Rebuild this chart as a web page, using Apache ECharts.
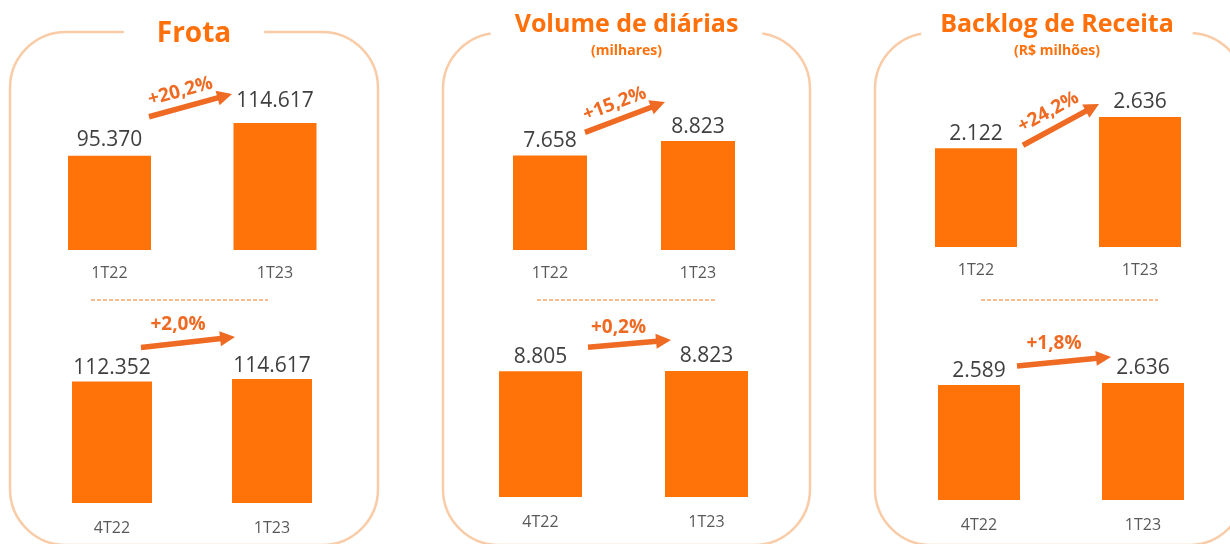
<!DOCTYPE html>
<html>
<head>
<meta charset="utf-8">
<script src="https://cdn.jsdelivr.net/npm/echarts@6/dist/echarts.min.js"></script>
<style>
  html, body { margin: 0; padding: 0; background: #fff; }
  #chart { width: 1230px; height: 544px; }
</style>
</head>
<body>
<div id="chart"></div>
<script>
// ---------- DATA ----------
const categoriesYoY = ['1T22', '1T23'];
const categoriesQoQ = ['4T22', '1T23'];
const frotaYoY = [95370, 114617];
const frotaQoQ = [112352, 114617];
const diariasYoY = [7658, 8823];
const diariasQoQ = [8805, 8823];
const backlogYoY = [2122, 2636];
const backlogQoQ = [2589, 2636];
const changeLabels = ['+20,2%', '+2,0%', '+15,2%', '+0,2%', '+24,2%', '+1,8%'];
const panelTitles = ['Frota', 'Volume de diárias', 'Backlog de Receita'];
const panelSubtitles = ['', '(milhares)', '(R$ milhões)'];

// ---------- STYLE / LAYOUT ----------
const BAR = '#FF7309';
const ARROW = '#EF6A22';
const TITLE = '#FF700A';
const FRAME = '#F9CBA6';
const VAL = '#404040';
const AX = '#595959';
const FONT = '"Open Sans", "Noto Sans", sans-serif';

const panels = [
  { data: frotaYoY,   cats: categoriesYoY, grid: { left: 26.75, width: 331, top: 113.8, height: 136.2 }, min: 40000, max: 120000, barWidth: 83, margin: 15, dist: [5, 11] },
  { data: frotaQoQ,   cats: categoriesQoQ, grid: { left: 32,    width: 320, top: 373.2, height: 129.8 }, min: 0,     max: 120000, barWidth: 80, margin: 17, dist: [3, 3] },
  { data: diariasYoY, cats: categoriesYoY, grid: { left: 476,   width: 296, top: 126.5, height: 123.5 }, min: 0,     max: 10000,  barWidth: 74, margin: 15, dist: [4, 4] },
  { data: diariasQoQ, cats: categoriesQoQ, grid: { left: 457.5, width: 332, top: 354.2, height: 142.8 }, min: 0,     max: 10000,  barWidth: 83, margin: 17, dist: [4, 4] },
  { data: backlogYoY, cats: categoriesYoY, grid: { left: 894,   width: 328, top: 94.8,  height: 152.2 }, min: 500,   max: 3000,   barWidth: 82, margin: 15, dist: [4, 4] },
  { data: backlogQoQ, cats: categoriesQoQ, grid: { left: 897,   width: 328, top: 366.8, height: 133.2 }, min: 0,     max: 3000,   barWidth: 82, margin: 17, dist: [4, 4] }
];

// arrow anchors: offsets from top-centre of each bar [start from bar 0, end at bar 1]
const arrowOffsets = [
  { s: [39.5, -39], e: [-43, -29],   rotateText: true,  t: [-6, -16] },
  { s: [29, -34],   e: [-37, -42],   rotateText: false, t: [-10, -18] },
  { s: [35, -23],   e: [-33, -39],   rotateText: true,  t: [-5, -16] },
  { s: [47.5, -24], e: [-35.5, -31], rotateText: false, t: [-11, -16] },
  { s: [47, -3],    e: [-41, -13],   rotateText: true,  t: [-5, -17] },
  { s: [38, -19],   e: [-32, -26],   rotateText: false, t: [-10, -18] }
];

const frames = [
  { x: 10,  y: 32, w: 368, h: 513, cx: 194,   pad: 33, size: 28, ty: 34 },
  { x: 443, y: 33, w: 367, h: 512, cx: 626.5, pad: 24, size: 25, ty: 25 },
  { x: 875, y: 33, w: 370, h: 512, cx: 1057,  pad: 19, size: 25, ty: 25 }
];
const dashes = [
  { x1: 91, x2: 268, y: 300 },
  { x1: 537, x2: 715, y: 300 },
  { x1: 981, x2: 1158, y: 300 }
];

function fmt(v) { return String(v).replace(/\B(?=(\d{3})+(?!\d))/g, '.'); }

const chart = echarts.init(document.getElementById('chart'), null, { renderer: 'canvas' });

const option = {
  animation: false,
  backgroundColor: '#ffffff',
  grid: panels.map(p => Object.assign({ containLabel: false }, p.grid)),
  xAxis: panels.map((p, i) => ({
    type: 'category', gridIndex: i, data: p.cats,
    axisLine: { show: false }, axisTick: { show: false }, splitLine: { show: false },
    axisLabel: { color: AX, fontFamily: FONT, fontSize: 16, margin: p.margin }
  })),
  yAxis: panels.map((p, i) => ({
    type: 'value', gridIndex: i, min: p.min, max: p.max, show: false,
    splitLine: { show: false }
  })),
  series: panels.map((p, i) => ({
    type: 'bar', xAxisIndex: i, yAxisIndex: i, barWidth: p.barWidth,
    data: p.data.map((v, j) => ({ value: v, label: { distance: p.dist[j] } })),
    itemStyle: { color: BAR },
    label: {
      show: true, position: 'top', color: VAL,
      fontFamily: FONT, fontSize: 21, formatter: d => fmt(d.value)
    }
  }))
};
chart.setOption(option);

// ---------- ANNOTATIONS ----------
const graphics = [];
frames.forEach((f, i) => {
  graphics.push({
    type: 'rect', z: 0, silent: true,
    shape: { x: f.x, y: f.y, width: f.w, height: f.h, r: 56 },
    style: { fill: 'none', stroke: FRAME, lineWidth: 2.5 }
  });
  graphics.push({
    type: 'text', z: 5, silent: true,
    style: {
      text: panelTitles[i], x: f.cx, y: f.ty, align: 'center', verticalAlign: 'middle',
      font: 'bold ' + f.size + 'px ' + FONT, fill: TITLE,
      backgroundColor: '#fff', padding: [1, f.pad]
    }
  });
  if (panelSubtitles[i]) {
    graphics.push({
      type: 'text', z: 6, silent: true,
      style: {
        text: panelSubtitles[i], x: f.cx, y: 51, align: 'center', verticalAlign: 'middle',
        font: 'bold 14px ' + FONT, fill: TITLE
      }
    });
  }
});
dashes.forEach(d => {
  graphics.push({
    type: 'line', silent: true,
    shape: { x1: d.x1, y1: d.y, x2: d.x2, y2: d.y },
    style: { stroke: '#F5A66E', lineWidth: 1.3, lineDash: [4, 2] }
  });
});

panels.forEach((p, i) => {
  const a = arrowOffsets[i];
  const p0 = chart.convertToPixel({ seriesIndex: i }, [0, p.data[0]]);
  const p1 = chart.convertToPixel({ seriesIndex: i }, [1, p.data[1]]);
  const sx = p0[0] + a.s[0], sy = p0[1] + a.s[1];
  const ex = p1[0] + a.e[0], ey = p1[1] + a.e[1];
  const ang = Math.atan2(ey - sy, ex - sx);
  const ux = Math.cos(ang), uy = Math.sin(ang);
  const nx = uy, ny = -ux; // normal pointing "up" of the arrow
  const head = 15, hw = 7.5;
  const bx = ex - ux * head, by = ey - uy * head;
  graphics.push({
    type: 'line', silent: true,
    shape: { x1: sx, y1: sy, x2: bx + ux, y2: by + uy },
    style: { stroke: ARROW, lineWidth: 5.5 }
  });
  graphics.push({
    type: 'polygon', silent: true,
    shape: { points: [[ex, ey], [bx + nx * hw, by + ny * hw], [bx - nx * hw, by - ny * hw]] },
    style: { fill: ARROW }
  });
  const mx = (sx + ex) / 2, my = (sy + ey) / 2;
  let tx, ty, rot = 0;
  if (a.rotateText) {
    tx = mx + ux * a.t[0] + nx * (-a.t[1]);
    ty = my + uy * a.t[0] + ny * (-a.t[1]);
    rot = -ang;
  } else {
    tx = mx + a.t[0];
    ty = my + a.t[1];
  }
  graphics.push({
    type: 'text', silent: true, x: tx, y: ty, rotation: rot,
    style: {
      text: changeLabels[i], x: 0, y: 0, align: 'center', verticalAlign: 'middle',
      font: 'bold 19px ' + FONT, fill: ARROW
    }
  });
});

chart.setOption({ graphic: graphics });
</script>
</body>
</html>
